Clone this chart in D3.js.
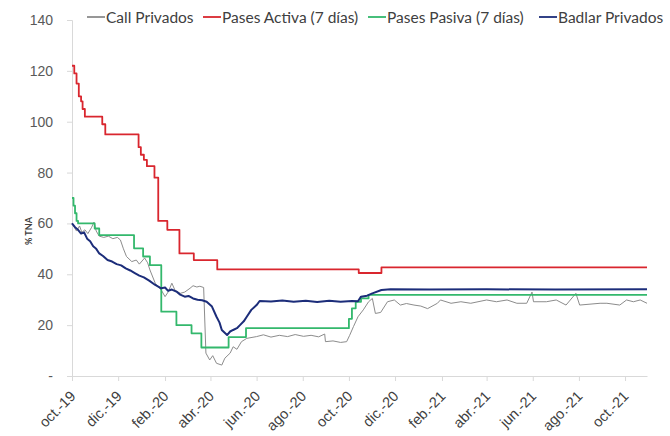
<!DOCTYPE html>
<html>
<head>
<meta charset="utf-8">
<script src="https://cdn.jsdelivr.net/npm/d3@7"></script>
<style>
  body { margin: 0; background: #fff; }
  svg { display: block; }
</style>
</head>
<body>
<div id="chart"></div>
<script>
// series: [fecha, % TNA]
const callPrivados = [
  ["2019-10-01",60],["2019-10-04",58.5],["2019-10-07",57],["2019-10-11",59],["2019-10-14",56.5],
  ["2019-10-18",57.5],["2019-10-22",56],["2019-10-27",58.5],["2019-10-30",60.5],["2019-11-02",57],
  ["2019-11-06",55],["2019-11-12",54.5],["2019-11-18",55],["2019-11-24",54],["2019-11-30",54.5],
  ["2019-12-04",53.5],["2019-12-08",50],["2019-12-12",47],["2019-12-19",45],["2019-12-25",45.6],
  ["2019-12-29",44],["2020-01-05",46.4],["2020-01-09",44.5],["2020-01-12",41.7],["2020-01-19",36.5],
  ["2020-01-23",35],["2020-01-27",33.8],["2020-02-01",31.2],["2020-02-05",33],["2020-02-10",36.5],
  ["2020-02-14",33.8],["2020-02-21",32.5],["2020-02-27",33],["2020-03-05",34.5],["2020-03-09",35.5],
  ["2020-03-14",35],["2020-03-18",35.3],["2020-03-23",34.8],["2020-03-26",9],["2020-03-31",6.3],
  ["2020-04-04",8],["2020-04-09",5],["2020-04-16",4.3],["2020-04-20",7],["2020-04-27",9],
  ["2020-05-01",11.5],["2020-05-06",10.5],["2020-05-12",13.5],["2020-05-19",14.8],["2020-06-01",15.5],
  ["2020-06-10",16.2],["2020-06-20",15.3],["2020-07-01",16],["2020-07-12",15.5],["2020-07-22",16.3],
  ["2020-08-02",15.6],["2020-08-12",16],["2020-08-22",15.4],["2020-08-30",16.5],["2020-08-31",13.5],
  ["2020-09-10",13.8],["2020-09-20",13.2],["2020-09-28",13.5],["2020-10-02",16],["2020-10-07",19.4],
  ["2020-10-11",22],["2020-10-13",23.3],["2020-10-20",26],["2020-10-27",29.2],["2020-11-01",30.5],
  ["2020-11-05",24.6],["2020-11-12",25],["2020-11-21",29.2],["2020-11-30",29.9],["2020-12-08",27.9],
  ["2020-12-16",28.5],["2020-12-26",27.9],["2021-01-04",27.5],["2021-01-13",26.5],["2021-01-26",28.6],
  ["2021-01-30",29.9],["2021-02-13",28.6],["2021-02-26",29.2],["2021-03-11",28.6],["2021-04-01",29.9],
  ["2021-04-14",29.2],["2021-04-28",29.9],["2021-05-11",28.6],["2021-05-24",28.6],["2021-05-31",33],
  ["2021-06-02",29.2],["2021-06-19",29.2],["2021-07-02",29.9],["2021-07-15",27.9],["2021-07-28",32.5],
  ["2021-08-02",27.9],["2021-08-29",28.6],["2021-09-07",28.6],["2021-09-24",27.9],["2021-10-03",29.9],
  ["2021-10-12",29.2],["2021-10-21",29.9],["2021-10-30",28.6]
];

const pasesActiva = [
  ["2019-10-01",122],["2019-10-04",119],["2019-10-07",115],["2019-10-10",110],["2019-10-13",108],
  ["2019-10-15",105],["2019-10-18",102],["2019-11-10",99],["2019-11-14",95],["2019-12-28",90],
  ["2019-12-31",87],["2020-01-04",85],["2020-01-08",82.5],["2020-01-18",78],["2020-01-23",61],
  ["2020-02-04",57.5],["2020-02-20",48.2],["2020-03-10",45.6],["2020-04-10",41.9],["2020-10-14",40.5],
  ["2020-11-13",42.7],["2021-10-30",42.7]
];

const pasesPasiva = [
  ["2019-10-01",70],["2019-10-03",67],["2019-10-05",64],["2019-10-07",61],["2019-10-09",60],
  ["2019-10-31",58],["2019-11-06",55.4],["2019-12-22",50.2],["2020-01-03",47],["2020-01-12",43.6],
  ["2020-01-27",25.3],["2020-02-16",20],["2020-03-07",16.8],["2020-03-20",11.2],["2020-04-25",15.3],
  ["2020-05-18",18.8],["2020-10-01",22.5],["2020-10-05",26.6],["2020-10-10",29.2],["2020-10-17",30.5],
  ["2020-10-27",31.9],["2021-10-30",31.9]
];

const badlarPrivados = [
  ["2019-10-01",60],["2019-10-05",58.5],["2019-10-09",57.5],["2019-10-13",56],["2019-10-17",56.5],
  ["2019-10-21",54],["2019-10-25",53],["2019-10-29",51],["2019-11-02",50],["2019-11-06",48.2],
  ["2019-11-11",47.2],["2019-11-17",45.6],["2019-11-23",45],["2019-11-29",44],["2019-12-05",43.5],
  ["2019-12-11",42.3],["2019-12-17",41.5],["2019-12-23",40.5],["2019-12-29",39.5],["2020-01-04",38.8],
  ["2020-01-11",37.5],["2020-01-19",35.8],["2020-01-27",34.5],["2020-02-01",34.8],["2020-02-05",33.5],
  ["2020-02-10",34],["2020-02-16",33.2],["2020-02-21",32],["2020-02-27",31.2],["2020-03-03",31.5],
  ["2020-03-09",30.5],["2020-03-15",30],["2020-03-21",29.8],["2020-03-27",29.2],["2020-04-03",27.3],
  ["2020-04-09",23.3],["2020-04-13",21],["2020-04-16",18.1],["2020-04-23",16.1],["2020-04-27",17.5],
  ["2020-05-01",18.1],["2020-05-06",18.8],["2020-05-10",20],["2020-05-15",21.5],["2020-05-19",23.3],
  ["2020-05-25",26],["2020-06-01",27.9],["2020-06-05",29.5],["2020-06-20",29.3],["2020-07-05",29.7],
  ["2020-07-20",29.2],["2020-08-05",29.6],["2020-08-20",29.1],["2020-09-05",29.6],["2020-09-20",29.2],
  ["2020-10-05",29.5],["2020-10-13",29.4],["2020-10-17",31.2],["2020-10-25",31.6],["2020-11-01",32.5],
  ["2020-11-13",33.8],["2020-11-25",34.1],["2021-01-15",34],["2021-04-01",34.1],["2021-07-01",34],
  ["2021-10-30",34.1]
];

const seriesNames = ["Call Privados", "Pases Activa (7 días)", "Pases Pasiva (7 días)", "Badlar Privados"];
const yTicks = [0, 20, 40, 60, 80, 100, 120, 140];
const xTickLabels = ["oct.-19","dic.-19","feb.-20","abr.-20","jun.-20","ago.-20","oct.-20",
                     "dic.-20","feb.-21","abr.-21","jun.-21","ago.-21","oct.-21"];

const W = 670, H = 436;
const margin = { left: 72, right: 23, top: 20, bottom: 60 };
const parse = d3.timeParse("%Y-%m-%d");

const svg = d3.select("#chart").append("svg")
  .attr("width", W).attr("height", H)
  .style("font-family", "Lato, 'Open Sans', sans-serif");

const x = d3.scaleTime()
  .domain([parse("2019-10-01"), parse("2021-10-30")])
  .range([margin.left, W - margin.right]);
const y = d3.scaleLinear()
  .domain([0, 140])
  .range([H - margin.bottom, margin.top]);

// eje Y
const yAxis = svg.append("g")
  .attr("transform", `translate(${margin.left},0)`)
  .call(d3.axisLeft(y).tickValues(yTicks).tickSize(5).tickPadding(14)
    .tickFormat(d => d === 0 ? "-" : d));
yAxis.select(".domain").attr("stroke", "#d9d9d9");
yAxis.selectAll(".tick line").attr("stroke", "#d9d9d9");
yAxis.selectAll("text").attr("fill", "#595959").style("font-size", "14px");

// eje X
const xTickDates = d3.timeMonth.range(parse("2019-10-01"), parse("2021-10-02"), 2);
const xAxis = svg.append("g")
  .attr("transform", `translate(0,${y(0)})`)
  .call(d3.axisBottom(x).tickValues(xTickDates).tickSize(5).tickSizeOuter(0)
    .tickFormat((d, i) => xTickLabels[i]));
xAxis.select(".domain").attr("stroke", "#d9d9d9");
xAxis.selectAll(".tick line").attr("stroke", "#d9d9d9");
xAxis.selectAll("text")
  .attr("fill", "#404040")
  .style("font-size", "14.5px")
  .attr("text-anchor", "end")
  .attr("x", 0).attr("y", 0).attr("dx", 0).attr("dy", 0)
  .attr("transform", "translate(4,21) rotate(-45)");

// titulo eje Y
svg.append("text")
  .attr("transform", `translate(32,${(y(0) + y(140)) / 2 + 33}) rotate(-90)`)
  .attr("text-anchor", "middle")
  .attr("fill", "#404040")
  .style("font-size", "9px")
  .style("font-weight", "bold")
  .text("% TNA");

// lineas
const series = [
  { name: seriesNames[0], data: callPrivados, color: "#8c8c8c", width: 1, curve: d3.curveLinear },
  { name: seriesNames[1], data: pasesActiva, color: "#d9262e", width: 1.8, curve: d3.curveStepAfter },
  { name: seriesNames[2], data: pasesPasiva, color: "#33b86c", width: 1.8, curve: d3.curveStepAfter },
  { name: seriesNames[3], data: badlarPrivados, color: "#1c2d7a", width: 2, curve: d3.curveLinear }
];

series.forEach(s => {
  const line = d3.line()
    .x(d => x(parse(d[0])))
    .y(d => y(d[1]))
    .curve(s.curve);
  svg.append("path")
    .datum(s.data)
    .attr("fill", "none")
    .attr("stroke", s.color)
    .attr("stroke-width", s.width)
    .attr("stroke-linejoin", "round")
    .attr("d", line);
});

// leyenda
const legendX = [87, 203, 368, 539];
const legend = svg.append("g");
series.forEach((s, i) => {
  const g = legend.append("g").attr("transform", `translate(${legendX[i]},17)`);
  g.append("line")
    .attr("x1", 0).attr("x2", 18)
    .attr("stroke", s.color)
    .attr("stroke-width", 1.8);
  g.append("text")
    .attr("x", 19).attr("y", 5.5)
    .attr("fill", "#404040")
    .style("font-size", "15.5px")
    .text(s.name);
});
</script>
</body>
</html>
